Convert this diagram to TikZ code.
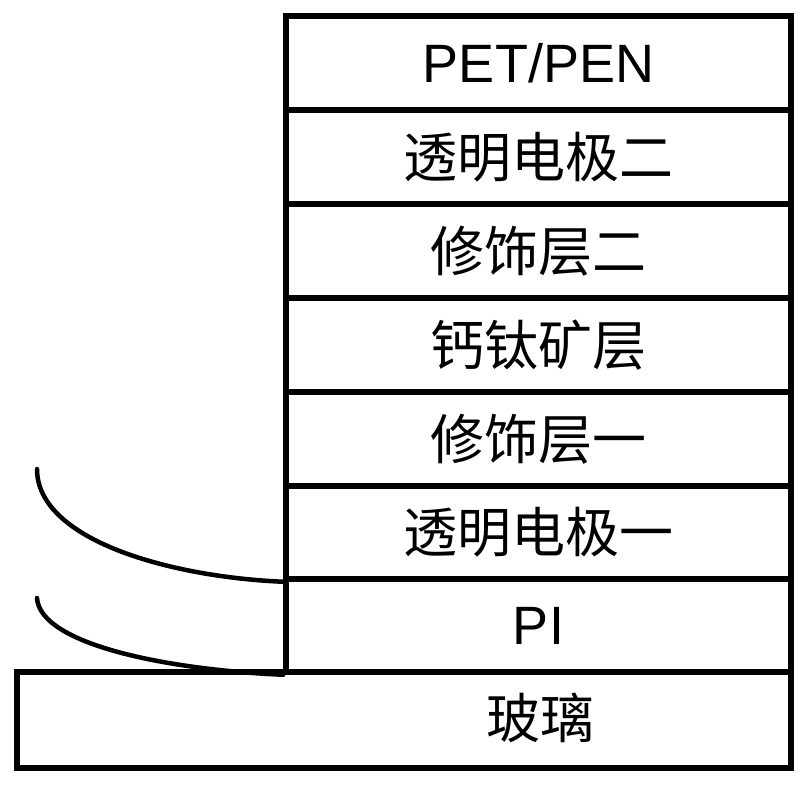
\documentclass[tikz,border=0pt]{standalone}
\usepackage{fontspec}
\setmainfont{Liberation Sans}
\newfontfamily\cjk{Noto Sans CJK SC}
\begin{document}
\begin{tikzpicture}[x=1pt,y=-1pt,
  layer/.style={draw=black, line width=5.5pt, minimum width=505pt, inner sep=0pt, anchor=center,
    font=\fontsize{54}{60}\selectfont},
  cjklayer/.style={layer, font=\cjk\fontsize{54}{60}\selectfont},
  wire/.style={line width=4.5pt, line cap=round}]
\useasboundingbox (0,0) rectangle (809,786);
\node[layer, minimum height=94pt] (pet) at (538.5,63) {PET/PEN};
\node[cjklayer, minimum height=94pt] (te2) at (538.5,157) {透明电极二};
\node[cjklayer, minimum height=94pt] (mod2) at (538.5,251) {修饰层二};
\node[cjklayer, minimum height=94pt] (perov) at (538.5,345) {钙钛矿层};
\node[cjklayer, minimum height=94pt] (mod1) at (538.5,439) {修饰层一};
\node[cjklayer, minimum height=93pt] (te1) at (538.5,532.5) {透明电极一};
\node[layer, minimum height=93pt] (pi) at (538.5,625.5) {PI};
\node[layer, minimum height=96pt, minimum width=774pt] (glass) at (404,720) {};
\node[font=\cjk\fontsize{54}{60}\selectfont] (glasslabel) at (540,718) {玻璃};
\coordinate (w1) at (37,469);
\coordinate (w2) at (37,598);
\draw[wire] (w1) .. controls (37,540) and (170,577) .. (te1.south west);
\draw[wire] (w2) .. controls (40,645) and (170,670) .. (pi.south west);
\end{tikzpicture}
\end{document}
